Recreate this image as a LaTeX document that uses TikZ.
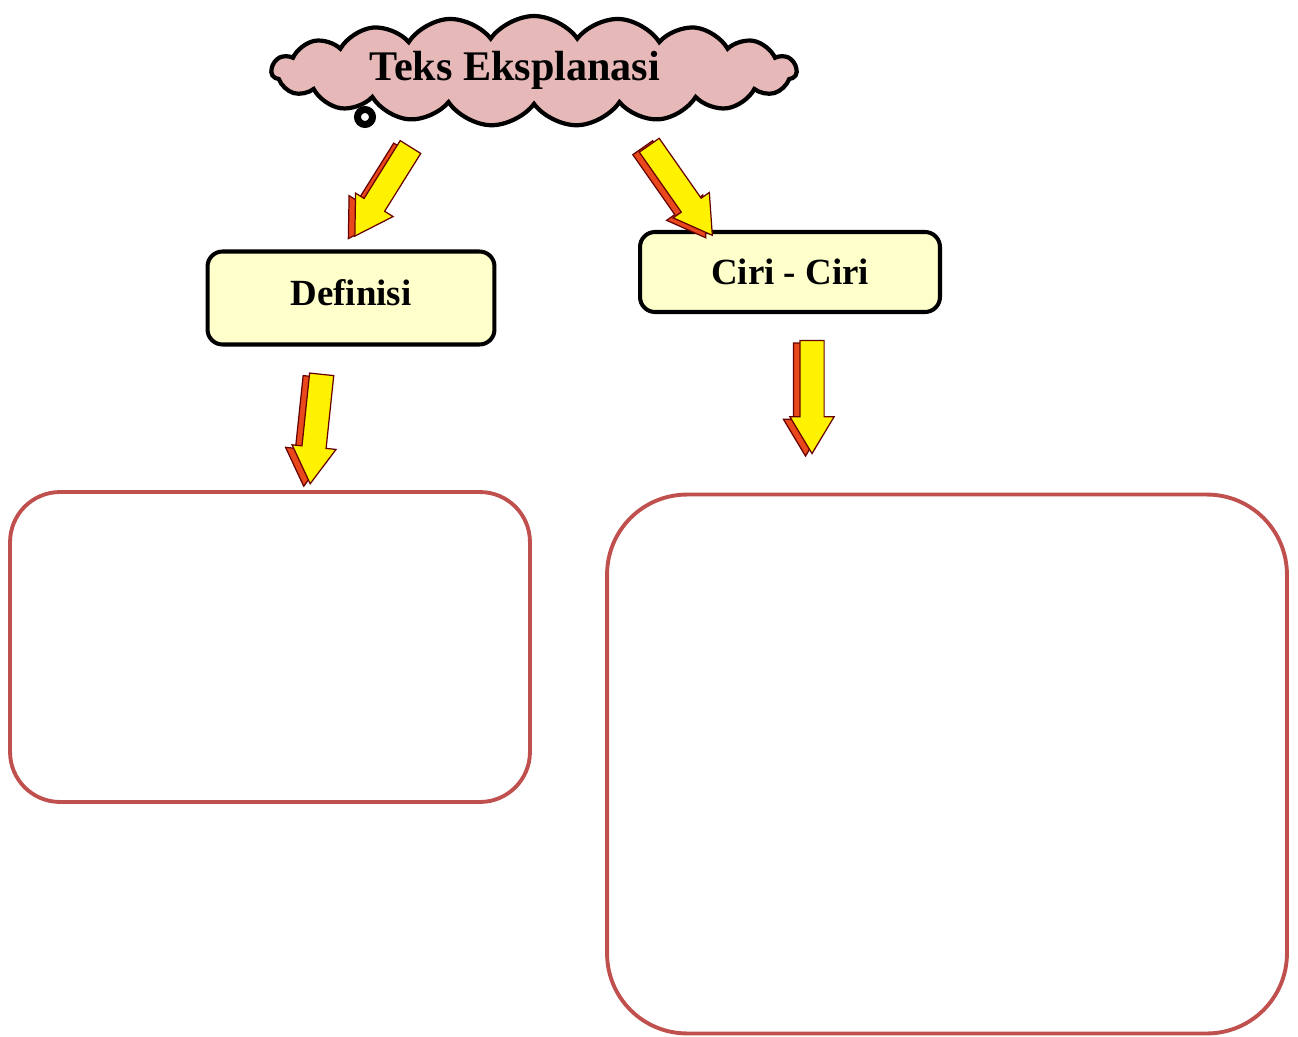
\documentclass[tikz,border=0pt]{standalone}
\usepackage{fontspec}
\setmainfont{Liberation Serif}
\usetikzlibrary{shapes.symbols,shapes.arrows}

\definecolor{cloudpink}{HTML}{E6B8B7}
\definecolor{boxyellow}{HTML}{FFFFCC}
\definecolor{framered}{HTML}{C0504D}
\definecolor{arrowred}{HTML}{E8481C}

\tikzset{
  titlebox/.style={rectangle,rounded corners=0.3cm,draw=black,line width=2.3pt,
    fill=boxyellow,font=\bfseries\fontsize{21}{25}\selectfont},
  answerbox/.style={rectangle,draw=framered,line width=2.2pt},
  fatarrow/.style={single arrow,inner xsep=0pt,inner ysep=0.23cm,single arrow head extend=0.2cm,
    single arrow tip angle=62,draw=black!60!red,line width=0.7pt},
  fatshadow/.style={fatarrow,fill=arrowred,xshift=-0.13cm,yshift=-0.05cm},
  fatfront/.style={fatarrow,fill=yellow}
}

\begin{document}
\begin{tikzpicture}[x=0.02cm,y=-0.02cm]

    % Page frame
    \useasboundingbox (0,0) rectangle (1298,1037);

    % Title cloud
    \node[cloud,cloud puffs=19,cloud puff arc=110,aspect=4.8,
          minimum width=10.5cm,minimum height=2.2cm,
          draw=black,line width=2.4pt,fill=cloudpink] (cloud) at (534,71) {};
    \node[font=\bfseries\fontsize{24}{28}\selectfont] (title) at (515,70) {Teks Eksplanasi};
    \draw[line width=4pt,fill=white] (365,117) circle (0.15cm);

    % Headings
    \node[titlebox,text depth=0.2cm,minimum width=5.74cm,minimum height=1.86cm] (def) at (351,298) {Definisi};
    \node[titlebox,minimum width=6cm,minimum height=1.6cm] (ciri) at (790,272) {Ciri - Ciri};

    % Empty answer frames
    \node[answerbox,rounded corners=1cm,minimum width=10.4cm,minimum height=6.2cm] (defbox) at (270,647) {};
    \node[answerbox,rounded corners=1.6cm,minimum width=13.6cm,minimum height=10.78cm] (ciribox) at (947,764) {};

    % Arrows: red back, yellow front
    \foreach \name/\x/\y/\ang/\len in {a1/388/183/-122/2.1, a2/675/182/-55/2.2,
                                     a3/317/419/-96/2.2, a4/812/387/-90/2.26}{
      \node[fatshadow,rotate=\ang,minimum height=\len cm] at (\x,\y) {};
      \node[fatfront,rotate=\ang,minimum height=\len cm] (\name) at (\x,\y) {};
    }

\end{tikzpicture}
\end{document}
